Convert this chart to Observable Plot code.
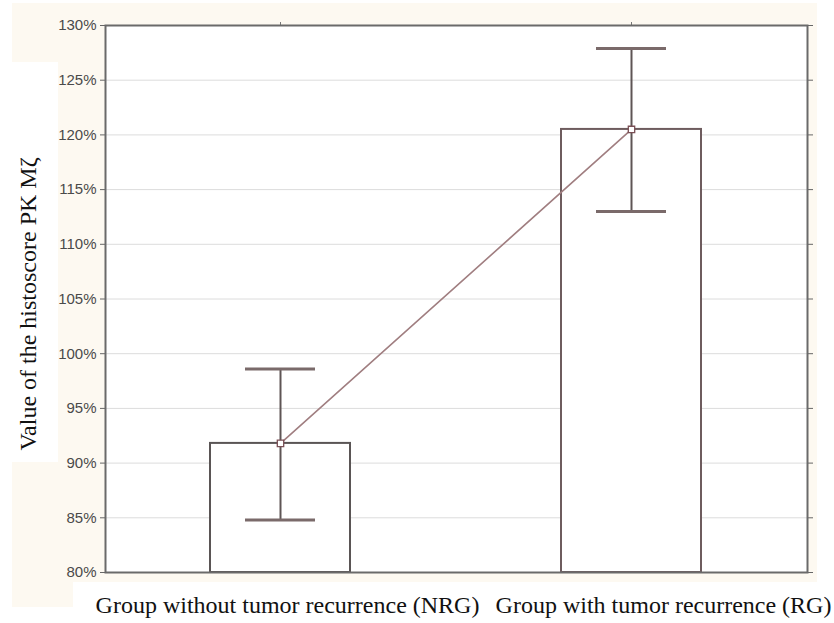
<!DOCTYPE html>
<html>
<head>
<meta charset="utf-8">
<script src="https://cdn.jsdelivr.net/npm/d3@7"></script>
<script src="https://cdn.jsdelivr.net/npm/@observablehq/plot@0.6"></script>
<style>
  html, body { margin: 0; padding: 0; background: #ffffff; }
  #wrap { position: relative; width: 834px; height: 623px; overflow: hidden; }
  .bg { position: absolute; background: #fdf9f1; }
  .wh { position: absolute; background: #ffffff; }
  #chart { position: absolute; left: 0; top: 0; }
</style>
</head>
<body>
<div id="wrap">
  <div class="bg" style="left:12px; top:3px; width:805px; height:579px;"></div>
  <div class="bg" style="left:12px; top:460px; width:61px; height:147px;"></div>
  <div class="wh" style="left:0px; top:62px; width:58px; height:400px;"></div>
  <div id="chart"></div>
</div>
<script>
const groups = ["Group without tumor recurrence (NRG)", "Group with tumor recurrence (RG)"];
const means = [91.8, 120.5];
const lows = [84.8, 113.0];
const highs = [98.6, 127.9];
const yTicks = [80, 85, 90, 95, 100, 105, 110, 115, 120, 125, 130];
const yLabel = "Value of the histoscore PK Mζ";

const data = groups.map((g, i) => ({group: g, mean: means[i], lo: lows[i], hi: highs[i]}));

const serif = "Liberation Serif, Times New Roman, serif";

const chart = Plot.plot({
  width: 834,
  height: 623,
  marginLeft: 105,
  marginRight: 27,
  marginTop: 25,
  marginBottom: 51,
  style: {background: "transparent", overflow: "visible"},
  x: {type: "band", domain: groups, paddingInner: 0.6, paddingOuter: 0.3, axis: null},
  y: {domain: [80, 130], axis: null},
  marks: [
    Plot.frame({fill: "white", stroke: "none"}),
    Plot.gridY(yTicks, {stroke: "#dcdcdc", strokeOpacity: 1, strokeWidth: 1}),
    Plot.axisY(yTicks, {
      anchor: "left", tickSize: 5, tickPadding: 4, label: null,
      tickFormat: d => d + "%",
      fontSize: 15, fontFamily: "Liberation Sans, Arial, sans-serif",
      fill: "#4a4a4a", stroke: "#666"
    }),
    Plot.axisY(yTicks, {anchor: "right", tickSize: 5, label: null, tickFormat: () => "", stroke: "#666"}),
    Plot.axisX(groups, {anchor: "top", tickSize: 4, label: null, tickFormat: () => "", stroke: "#777"}),
    Plot.barY(data, {x: "group", y1: 80, y2: "mean", fill: "white", stroke: ["#5a5555", "#6e5c5e"], strokeWidth: 2}),
    Plot.ruleX(data, {x: "group", y1: "lo", y2: "hi", stroke: "#5e5555", strokeWidth: 2}),
    Plot.tickY(data, {x: "group", y: "hi", inset: 35, stroke: "#7a6a6a", strokeWidth: 3}),
    Plot.tickY(data, {x: "group", y: "lo", inset: 35, stroke: "#7a6a6a", strokeWidth: 3}),
    Plot.line(data, {x: "group", y: "mean", stroke: "#a07e80", strokeWidth: 1.6}),
    Plot.dot(data, {x: "group", y: "mean", symbol: "square", r: 3.6, fill: "white", stroke: "#7a4f55", strokeWidth: 1.3}),
    Plot.frame({stroke: "#6a6a6a", strokeWidth: 2}),
    Plot.text([groups[0]], {
      x: d => d, frameAnchor: "bottom", dy: 33, dx: 7, lineAnchor: "middle",
      text: d => d, fontSize: 24, fontFamily: serif, fill: "#111"
    }),
    Plot.text([groups[1]], {
      x: d => d, frameAnchor: "bottom", dy: 33, dx: 32, lineAnchor: "middle",
      text: d => d, fontSize: 24, fontFamily: serif, fill: "#111"
    }),
    Plot.text([yLabel], {
      frameAnchor: "left", textAnchor: "middle", dx: -77, dy: 5, rotate: -90, text: d => d,
      fontSize: 24, fontFamily: serif, fill: "#111"
    })
  ]
});
document.getElementById("chart").appendChild(chart);
</script>
</body>
</html>
